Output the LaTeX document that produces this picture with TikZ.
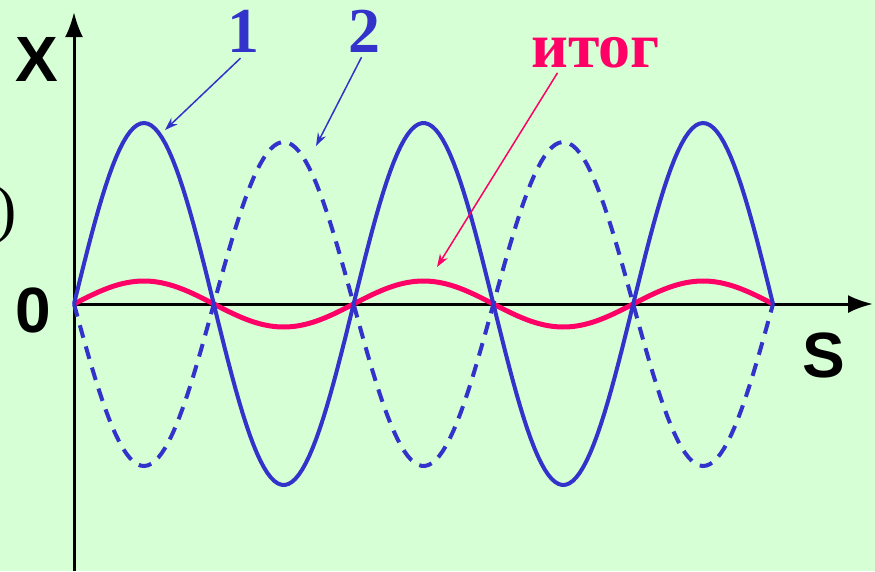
\documentclass[tikz,border=0pt]{standalone}
\usepackage{fontspec}
\setmainfont{Liberation Serif}
\newfontfamily\axisfont{Liberation Sans}
\usepackage{tikz}
\usetikzlibrary{arrows.meta, positioning, calc}
\definecolor{bggreen}{RGB}{214, 255, 214}
\definecolor{waveblue}{RGB}{51, 51, 204}
\definecolor{sumred}{RGB}{255, 0, 102}

\begin{document}
\begin{tikzpicture}[x=1pt, y=-1pt,
    axisline/.style={black, line width=3pt, -{Latex[length=25pt, width=18pt]}},
    ptr/.style={line width=1.5pt, -{Stealth[length=13pt, width=9pt]}},
    axislbl/.style={font=\axisfont\bfseries\fontsize{64}{64}\selectfont, inner sep=0pt, anchor=base},
    wavelbl/.style={font=\bfseries\fontsize{64}{64}\selectfont, inner sep=0pt, anchor=base}]
    % background and frame
    \fill[bggreen] (0,0) rectangle (875,571);
    \useasboundingbox (0,0) rectangle (875,571);
    \coordinate (O) at (74,304);
    \coordinate (yend) at (74,12);
    \coordinate (ybot) at (74,571);
    \coordinate (xend) at (873,304);
    % axes
    \draw[axisline] (ybot) -- (yend);
    \draw[axisline] (O) -- (xend);
    \node[axislbl] (xlbl) at (37,81) {X};
    \node[axislbl] (zerolbl) at (33.5,332) {0};
    \node[axislbl] (slbl) at (823.5,377) {S};
    \node[font=\fontsize{64}{64}\selectfont, inner sep=0pt, anchor=base east] (paren) at (17,230) {)};
    % waves (half period 139.8, so 180/139.8 = 1.28755 deg per unit)
    \draw[sumred, line width=5pt]
        plot[domain=0:699, samples=200] ({74+\x}, {304-23*sin(1.28755*\x)});
    \draw[waveblue, line width=4pt, dash pattern=on 13pt off 9pt]
        plot[domain=0:699, samples=200] ({74+\x}, {304+162*sin(1.28755*\x)});
    \draw[waveblue, line width=4pt]
        plot[domain=0:699, samples=200] ({74+\x}, {304-181*sin(1.28755*\x)});
    % labels
    \node[wavelbl, waveblue] (lblone) at (243.5,52) {1};
    \node[wavelbl, waveblue] (lbltwo) at (364.5,52) {2};
    \node[wavelbl, sumred] (lblsum) at (595.5,67) {итог};
    \coordinate (tipone) at (165,130);
    \coordinate (tiptwo) at (316,146);
    \coordinate (tipsum) at (437,267);
    \draw[ptr, waveblue] ($(lblone.south)+(-3,6)$) -- (tipone);
    \draw[ptr, waveblue] ($(lbltwo.south)+(-3,5)$) -- (tiptwo);
    \draw[ptr, sumred] ($(lblsum.south)+(-38,5)$) -- (tipsum);
\end{tikzpicture}
\end{document}
